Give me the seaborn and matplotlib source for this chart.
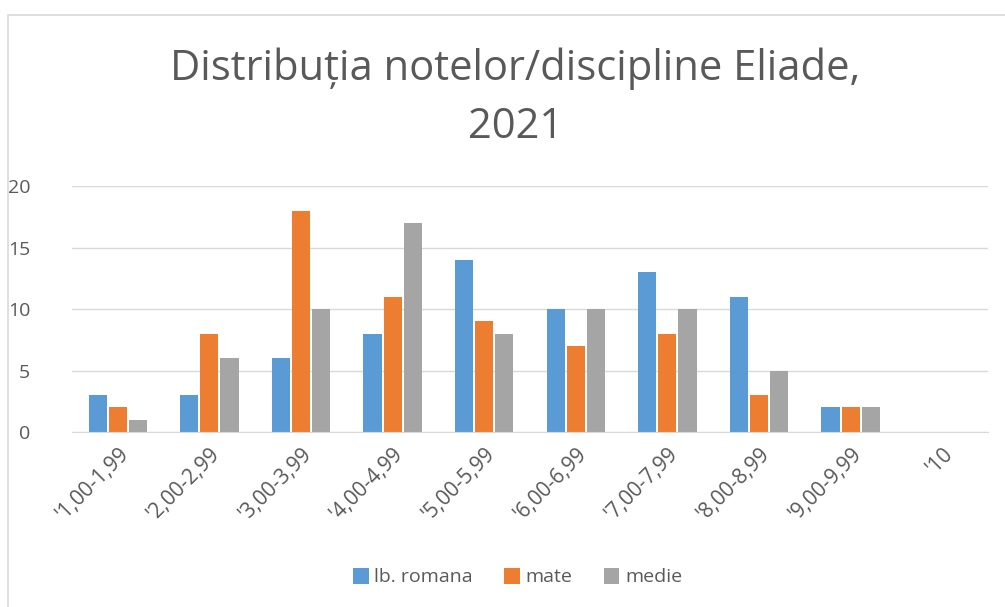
import matplotlib.pyplot as plt
import matplotlib.patches as mpatches
import pandas as pd
import seaborn as sns

categories = ["'1,00-1,99", "'2,00-2,99", "'3,00-3,99", "'4,00-4,99", "'5,00-5,99",
              "'6,00-6,99", "'7,00-7,99", "'8,00-8,99", "'9,00-9,99", "'10"]
series = ["lb. romana", "mate", "medie"]
romana = [3, 3, 6, 8, 14, 10, 13, 11, 2, 0]
mate = [2, 8, 18, 11, 9, 7, 8, 3, 2, 0]
medie = [1, 6, 10, 17, 8, 10, 10, 5, 2, 0]
colors = ["#5b9bd5", "#ed7d31", "#a5a5a5"]

df = pd.DataFrame({"Interval": categories * 3,
                   "Serie": [s for s in series for _ in categories],
                   "Numar": romana + mate + medie})

sns.set_style("white")
plt.rcParams["font.family"] = ["Open Sans", "DejaVu Sans"]
text_color = "#595959"

fig = plt.figure(figsize=(10.05, 6.07), dpi=100)
ax = fig.add_axes([72 / 1005, 1 - 432 / 607, (988 - 72) / 1005, (432 - 186) / 607])

sns.barplot(data=df, x="Interval", y="Numar", hue="Serie", palette=colors,
            width=0.66, gap=0.1, ax=ax, saturation=1, linewidth=0)

ax.set_ylim(0, 20)
ax.set_yticks([0, 5, 10, 15, 20])
ax.yaxis.grid(True, color="#d9d9d9", linewidth=1)
ax.set_axisbelow(True)
for s in ["top", "right", "left"]:
    ax.spines[s].set_visible(False)
ax.spines["bottom"].set_color("#d9d9d9")
ax.tick_params(axis="both", length=0, labelsize=14, colors=text_color, pad=8)
ax.tick_params(axis="x", labelsize=15)
ax.tick_params(axis="y", pad=30)
plt.setp(ax.get_xticklabels(), rotation=45, ha="right", rotation_mode="anchor")
ax.set_xlabel("")
ax.set_ylabel("")

ax.legend(loc="center", bbox_to_anchor=(0.515, (607 - 577) / 607), bbox_transform=fig.transFigure,
          ncol=3, frameon=False, fontsize=14, labelcolor=text_color,
          handlelength=0.8, handleheight=0.9, handletextpad=0.3, columnspacing=1.6)

fig.text(0.513, 1 - 98 / 607, "Distribuția notelor/discipline Eliade,\n2021", ha="center", va="center",
         fontsize=30, color=text_color, linespacing=1.5)

fig.patches.append(mpatches.Rectangle((8 / 1005, -0.05), 1.1, 1 - 15 / 607 + 0.05,
                                      transform=fig.transFigure, fill=False,
                                      edgecolor="#d9d9d9", linewidth=1.2))

fig.savefig("out.png", dpi=100)
